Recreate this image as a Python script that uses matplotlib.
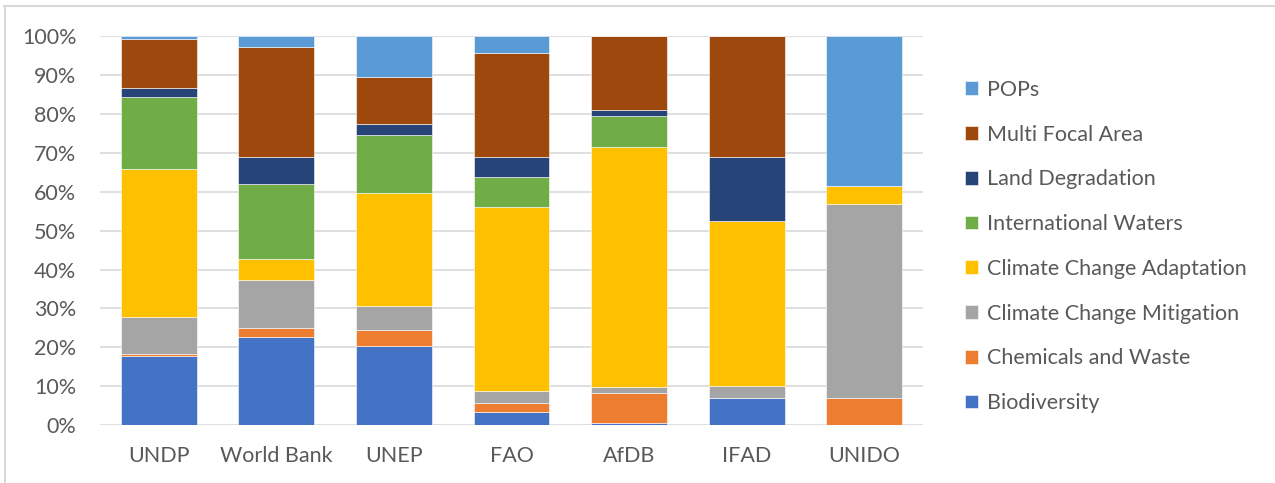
import matplotlib.pyplot as plt
from matplotlib.lines import Line2D
import numpy as np

plt.rcParams['font.family'] = ['Lato', 'DejaVu Sans']

agencies = ["UNDP", "World Bank", "UNEP", "FAO", "AfDB", "IFAD", "UNIDO"]

# shares in percent, bottom to top
biodiversity = [17.8, 22.7, 20.4, 3.4, 0.4, 7.0, 0.0]
chemicals_waste = [0.4, 2.2, 4.0, 2.3, 7.8, 0.0, 6.9]
cc_mitigation = [9.7, 12.3, 6.3, 3.0, 1.6, 3.0, 50.0]
cc_adaptation = [37.9, 5.5, 28.9, 47.5, 61.7, 42.4, 4.6]
intl_waters = [18.6, 19.2, 15.0, 7.6, 7.9, 0.0, 0.0]
land_degradation = [2.3, 7.1, 2.9, 5.2, 1.5, 16.6, 0.0]
multi_focal = [12.7, 28.3, 11.9, 26.8, 19.1, 31.0, 0.0]
pops = [0.6, 2.7, 10.6, 4.2, 0.0, 0.0, 38.5]

series = [
    ("Biodiversity", biodiversity, "#4472C4"),
    ("Chemicals and Waste", chemicals_waste, "#ED7D31"),
    ("Climate Change Mitigation", cc_mitigation, "#A5A5A5"),
    ("Climate Change Adaptation", cc_adaptation, "#FFC000"),
    ("International Waters", intl_waters, "#70AD47"),
    ("Land Degradation", land_degradation, "#264478"),
    ("Multi Focal Area", multi_focal, "#9E480E"),
    ("POPs", pops, "#5B9BD5"),
]

fig = plt.figure(figsize=(12.75, 4.83), dpi=100)
ax = fig.add_axes([0.0784, 0.12, 0.6455, 0.805])

x = np.arange(len(agencies))
totals = np.sum([s[1] for s in series], axis=0)
bottom = np.zeros(len(agencies))
handles = []
for name, vals, color in series:
    share = np.array(vals) / totals
    b = ax.bar(x, share, 0.645, bottom=bottom, color=color, label=name,
               edgecolor="white", linewidth=0.4, zorder=3)
    handles.append(b)
    bottom += share

ax.set_xlim(-0.5, 6.5)
ax.set_ylim(0, 1)
ax.set_yticks(np.arange(0, 1.01, 0.1))
ax.set_yticklabels([f"{int(round(v * 100))}%" for v in np.arange(0, 1.01, 0.1)])
ax.set_xticks(x)
ax.set_xticklabels(agencies)
ax.tick_params(axis="both", length=0, labelsize=15.5, colors="#595959")
ax.tick_params(axis="y", pad=17)
ax.tick_params(axis="x", pad=15)
ax.grid(axis="y", color="#D9D9D9", linewidth=1.2, zorder=0)
for sp in ax.spines.values():
    sp.set_visible(False)

leg = fig.legend(handles[::-1], [s[0] for s in series][::-1],
                 loc="upper left", bbox_to_anchor=(0.742, 0.875),
                 frameon=False, fontsize=15.5, labelspacing=1.15,
                 handlelength=0.6, handleheight=0.6, handletextpad=0.4)
for t in leg.get_texts():
    t.set_color("#595959")

# chart area border
fig.add_artist(Line2D([4 / 1275, 1], [1 - 6 / 483, 1 - 6 / 483],
                      transform=fig.transFigure, color="#D9D9D9", linewidth=1.5))
fig.add_artist(Line2D([5 / 1275, 5 / 1275], [0, 1 - 6 / 483],
                      transform=fig.transFigure, color="#D9D9D9", linewidth=1.5))

fig.savefig("out.png", dpi=100)
